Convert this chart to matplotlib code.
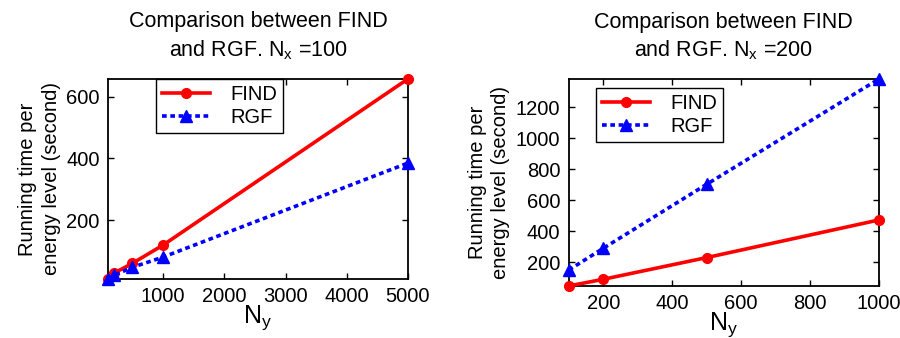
import numpy as np
import matplotlib
matplotlib.use('Agg')
import matplotlib.pyplot as plt

plt.rcParams['font.family'] = ['Liberation Sans', 'DejaVu Sans']
plt.rcParams['mathtext.fontset'] = 'custom'
plt.rcParams['mathtext.rm'] = 'Liberation Sans'
plt.rcParams['mathtext.it'] = 'Liberation Sans'

# Nx = 100
ny_100 = [100, 200, 500, 1000, 5000]
find_100 = [9, 28, 60, 119, 658]
rgf_100 = [10, 21, 47, 80, 385]

# Nx = 200
ny_200 = [100, 200, 500, 1000]
find_200 = [47, 90, 230, 473]
rgf_200 = [150, 290, 703, 1383]

fig = plt.figure(figsize=(9, 3.38), dpi=100)
ax1 = fig.add_axes([0.12, 0.1746, 0.3333, 0.592])
ax2 = fig.add_axes([0.632, 0.154, 0.3444, 0.612])


def draw(ax, x, f, r, nx, xticks, yticks, legend_anchor):
    ax.plot(x, f, 'r-', lw=2.6, marker='o', ms=7, label='FIND', clip_on=False,
            zorder=3)
    ax.plot(x, r, color='b', ls=(0, (1.3, 1.0)), lw=2.6, marker='^', ms=9,
            label='RGF', clip_on=False, zorder=3)
    ax.set_xlim(min(x), max(x))
    ax.set_ylim(min(min(f), min(r)), max(max(f), max(r)))
    ax.set_xticks(xticks)
    ax.set_yticks(yticks)
    ax.tick_params(direction='in', top=True, right=True, labelsize=14.5,
                   length=4, width=1, pad=6)
    for s in ax.spines.values():
        s.set_linewidth(1.3)
    ax.set_title('Comparison between FIND\nand RGF. N$_{\\mathregular{x}}$ =%d' % nx,
                 fontsize=15.5, pad=16, linespacing=1.35)
    ax.set_xlabel('N$_{\\mathregular{y}}$', fontsize=18, labelpad=-2)
    ax.set_ylabel('Running time per\nenergy level (second)', fontsize=14.5,
                  linespacing=1.3, labelpad=4)
    leg = ax.legend(loc='upper left', bbox_to_anchor=legend_anchor,
                    fontsize=14.5, fancybox=False, framealpha=1,
                    edgecolor='black', handlelength=2.4, borderpad=0.3,
                    labelspacing=0.2, handletextpad=1.0, borderaxespad=0)
    leg.get_frame().set_linewidth(1.0)


draw(ax1, ny_100, find_100, rgf_100, 100, [1000, 2000, 3000, 4000, 5000],
     [200, 400, 600], (0.16, 1.0))
draw(ax2, ny_200, find_200, rgf_200, 200, [200, 400, 600, 800, 1000],
     [200, 400, 600, 800, 1000, 1200], (0.087, 0.957))

fig.savefig('out.png', dpi=100)
